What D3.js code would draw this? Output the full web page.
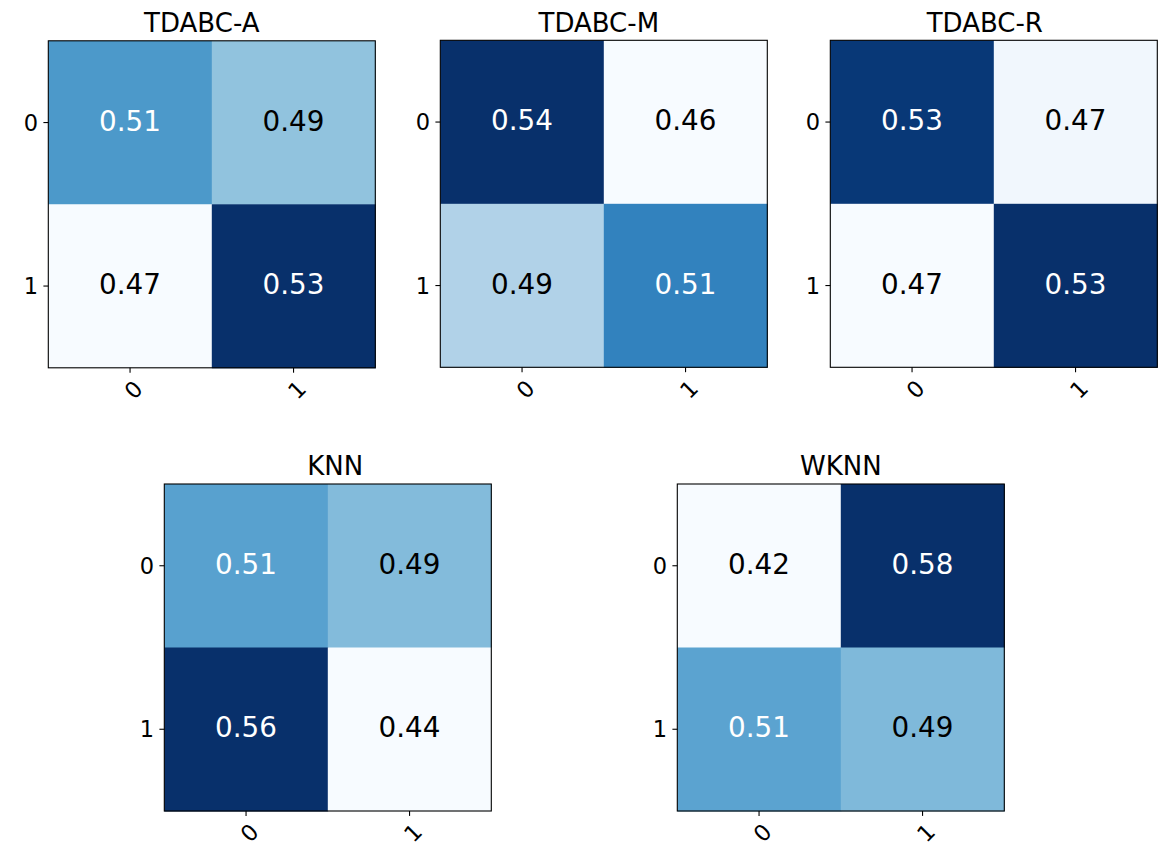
<!DOCTYPE html>
<html lang="en">
  <head>
    <meta charset="UTF-8" />
    <title>Confusion matrices</title>
    <script src="https://d3js.org/d3.v7.min.js"></script>
    <style>
      body {
        margin: 0;
        background: #fff;
      }
      svg {
        display: block;
        font-family: "DejaVu Sans", sans-serif;
      }
      .title {
        font-size: 26px;
        fill: #000;
      }
      .cell-label {
        font-size: 27.8px;
      }
      .tick-label {
        font-size: 22.5px;
        fill: #000;
      }
    </style>
  </head>
  <body>
    <div id="chart"></div>

    <script>
      const width = 1172,
        height = 862;

      // class labels for rows (true) and columns (predicted)
      const classes = ["0", "1"];

      // subplot titles
      const titles = ["TDABC-A", "TDABC-M", "TDABC-R", "KNN", "WKNN"];

      // normalized confusion matrices, row by row
      const tdabcA = [
        [0.506, 0.494],
        [0.468, 0.532],
      ];
      const tdabcM = [
        [0.538, 0.462],
        [0.486, 0.514],
      ];
      const tdabcR = [
        [0.532, 0.468],
        [0.466, 0.534],
      ];
      const knn = [
        [0.507, 0.493],
        [0.56, 0.44],
      ];
      const wknn = [
        [0.42, 0.58],
        [0.508, 0.492],
      ];
      const matrices = [tdabcA, tdabcM, tdabcR, knn, wknn];

      // where each panel sits in the figure (left, top), and title nudge
      const panelPos = [
        [48.3, 40.8],
        [440.3, 40.3],
        [830.3, 40.3],
        [164.3, 484],
        [677.3, 484],
      ];
      const titleShift = [-10, -5, -9, 7.5, 0];
      const size = 327;

      // matplotlib "Blues" colormap stops
      const bluesStops = [
        "#f7fbff",
        "#deebf7",
        "#c6dbef",
        "#9ecae1",
        "#6baed6",
        "#4292c6",
        "#2171b5",
        "#08519c",
        "#08306b",
      ];

      const svg = d3
        .select("#chart")
        .append("svg")
        .attr("width", width)
        .attr("height", height);

      const x = d3.scaleBand().domain(classes).range([0, size]);
      const y = d3.scaleBand().domain(classes).range([0, size]);

      matrices.forEach((m, i) => {
        const [left, top] = panelPos[i];
        const flat = m.flat();
        const lo = d3.min(flat),
          hi = d3.max(flat);
        const norm = d3.scaleLinear().domain([lo, hi]).range([0, 1]);
        const color = d3
          .scaleLinear()
          .domain(d3.range(bluesStops.length).map((k) => k / (bluesStops.length - 1)))
          .range(bluesStops)
          .interpolate(d3.interpolateRgb);
        const thresh = (lo + hi) / 2;

        const g = svg.append("g").attr("transform", `translate(${left},${top})`);

        const cells = [];
        m.forEach((row, r) =>
          row.forEach((v, c) => cells.push({ r: classes[r], c: classes[c], v }))
        );

        g.selectAll("rect.cell")
          .data(cells)
          .enter()
          .append("rect")
          .attr("class", "cell")
          .attr("x", (d) => x(d.c))
          .attr("y", (d) => y(d.r))
          .attr("width", x.bandwidth() + 0.5)
          .attr("height", y.bandwidth() + 0.5)
          .attr("fill", (d) => color(norm(d.v)));

        g.selectAll("text.cell-label")
          .data(cells)
          .enter()
          .append("text")
          .attr("class", "cell-label")
          .attr("x", (d) => x(d.c) + x.bandwidth() / 2)
          .attr("y", (d) => y(d.r) + y.bandwidth() / 2 + 8)
          .attr("text-anchor", "middle")
          .attr("fill", (d) => (d.v > thresh ? "#fff" : "#000"))
          .text((d) => d.v.toFixed(2));

        // frame
        g.append("rect")
          .attr("width", size)
          .attr("height", size)
          .attr("fill", "none")
          .attr("stroke", "#000")
          .attr("stroke-width", 1.1);

        // tick marks from d3 axes, labels drawn separately
        const yAxis = g
          .append("g")
          .call(d3.axisLeft(y).tickSize(4.9).tickSizeOuter(0).tickFormat(""));
        yAxis.select(".domain").remove();
        yAxis.selectAll(".tick line").attr("stroke", "#000").attr("stroke-width", 1.1);

        const xAxis = g
          .append("g")
          .attr("transform", `translate(0,${size})`)
          .call(d3.axisBottom(x).tickSize(4.9).tickSizeOuter(0).tickFormat(""));
        xAxis.select(".domain").remove();
        xAxis.selectAll(".tick line").attr("stroke", "#000").attr("stroke-width", 1.1);

        g.selectAll("text.ylab")
          .data(classes)
          .enter()
          .append("text")
          .attr("class", "tick-label ylab")
          .attr("x", -10.3)
          .attr("y", (d) => y(d) + y.bandwidth() / 2 + 8.2)
          .attr("text-anchor", "end")
          .text((d) => d);

        g.selectAll("text.xlab")
          .data(classes)
          .enter()
          .append("text")
          .attr("class", "tick-label xlab")
          .attr(
            "transform",
            (d) => `translate(${x(d) + x.bandwidth() / 2 + 3.5},${size + 22}) rotate(-45)`
          )
          .attr("text-anchor", "middle")
          .attr("dy", 7.8)
          .text((d) => d);

        // title
        g.append("text")
          .attr("class", "title")
          .attr("x", size / 2 + titleShift[i])
          .attr("y", -8.8)
          .attr("text-anchor", "middle")
          .text(titles[i]);
      });
    </script>
  </body>
</html>
